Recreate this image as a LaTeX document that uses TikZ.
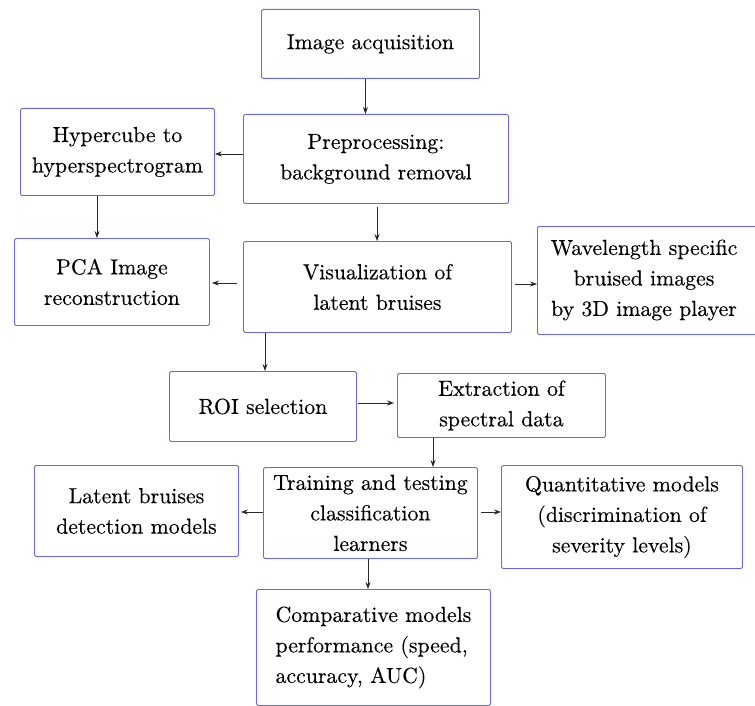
\documentclass[tikz,border=0pt]{standalone}
\usepackage{fontspec}
\IfFontExistsTF{lmroman10-regular.otf}{\newfontfamily\lmr{lmroman10-regular.otf}[FakeBold=0.25]}{\newfontfamily\lmr{Latin Modern Roman}}
\usetikzlibrary{arrows.meta,positioning}
\definecolor{boxblue}{RGB}{105,105,225}
\definecolor{arrgray}{RGB}{40,40,40}
\tikzset{
  box/.style={draw=boxblue, line width=0.9pt, rounded corners=1.5pt, fill=white,
    align=center, inner sep=0pt, font=\lmr\fontsize{21.8}{30.5}\selectfont},
  txt/.style={align=center, inner sep=0pt, font=\lmr\fontsize{21.8}{30.5}\selectfont},
  arr/.style={draw=arrgray, line width=0.8pt, -{Stealth[length=7pt,width=5pt]}}
}
\newcommand{\mybox}[6]{% name, x1, y1, x2, y2, text
  \node[box, anchor=north west, minimum width={(#4-#2)*1pt}, minimum height={(#5-#3)*1pt}] (#1) at (#2,#3) {#6};}
\begin{document}
\begin{tikzpicture}[x=1pt,y=-1pt]
\useasboundingbox (0,0) rectangle (755,706);
\fill[white] (0,0) rectangle (755,706);
\mybox{acq}{261}{9}{479}{78}{Image acquisition}
\mybox{pre}{243}{114}{508}{203}{Preprocessing:\\background removal}
\mybox{hyp}{20}{108}{214}{195}{Hypercube to\\hyperspectrogram}
\mybox{pca}{14}{238}{209}{325}{PCA Image\\reconstruction}
\mybox{vis}{243}{241}{511}{332}{Visualization of\\latent bruises}
\mybox{wav}{537}{226}{762}{334}{}
\node[txt] (wavt) at (644,280) {Wavelength specific\\bruised images\\by 3D image player};
\mybox{roi}{169}{371}{356}{441}{ROI selection}
\mybox{ext}{397}{373}{605}{437}{Extraction of\\spectral data}
\mybox{lat}{34}{465}{238}{556}{Latent bruises\\detection models}
\mybox{trn}{263}{467}{477}{558}{Training and testing\\classification\\learners}
\mybox{qnt}{501}{465}{742}{568}{Quantitative models\\(discrimination of\\severity levels)}
\node[box, anchor=north west, minimum width=234pt, minimum height=116pt, align=left] (cmp) at (256,589) {Comparative models\\performance (speed,\\accuracy, AUC)};

\draw[arr] ([xshift=-5pt]acq.south) -- ([xshift=-5pt]acq.south |- pre.north);
\draw[arr] (pre.west |- 0,154) -- (hyp.east |- 0,154);
\draw[arr] (97,0 |- hyp.south) -- (97,0 |- pca.north);
\draw[arr, shorten <=3pt] (377,0 |- pre.south) -- (377,0 |- vis.north);
\draw[arr, shorten <=6pt, shorten >=2pt] (vis.west |- 0,283) -- (pca.east |- 0,283);
\draw[arr, shorten <=3pt] (vis.east |- 0,284) -- (wav.west |- 0,284);
\draw[arr] (265,0 |- vis.south) -- (265,0 |- roi.north);
\draw[arr, shorten <=1pt, shorten >=3pt] (roi.east |- 0,403) -- (ext.west |- 0,403);
\draw[arr] (433,0 |- ext.south) -- (433,0 |- trn.north);
\draw[arr, shorten >=2pt] (trn.west |- 0,512) -- (lat.east |- 0,512);
\draw[arr, shorten <=3pt] (trn.east |- 0,512) -- (qnt.west |- 0,512);
\draw[arr] (368,0 |- trn.south) -- (368,0 |- cmp.north);
\end{tikzpicture}
\end{document}
